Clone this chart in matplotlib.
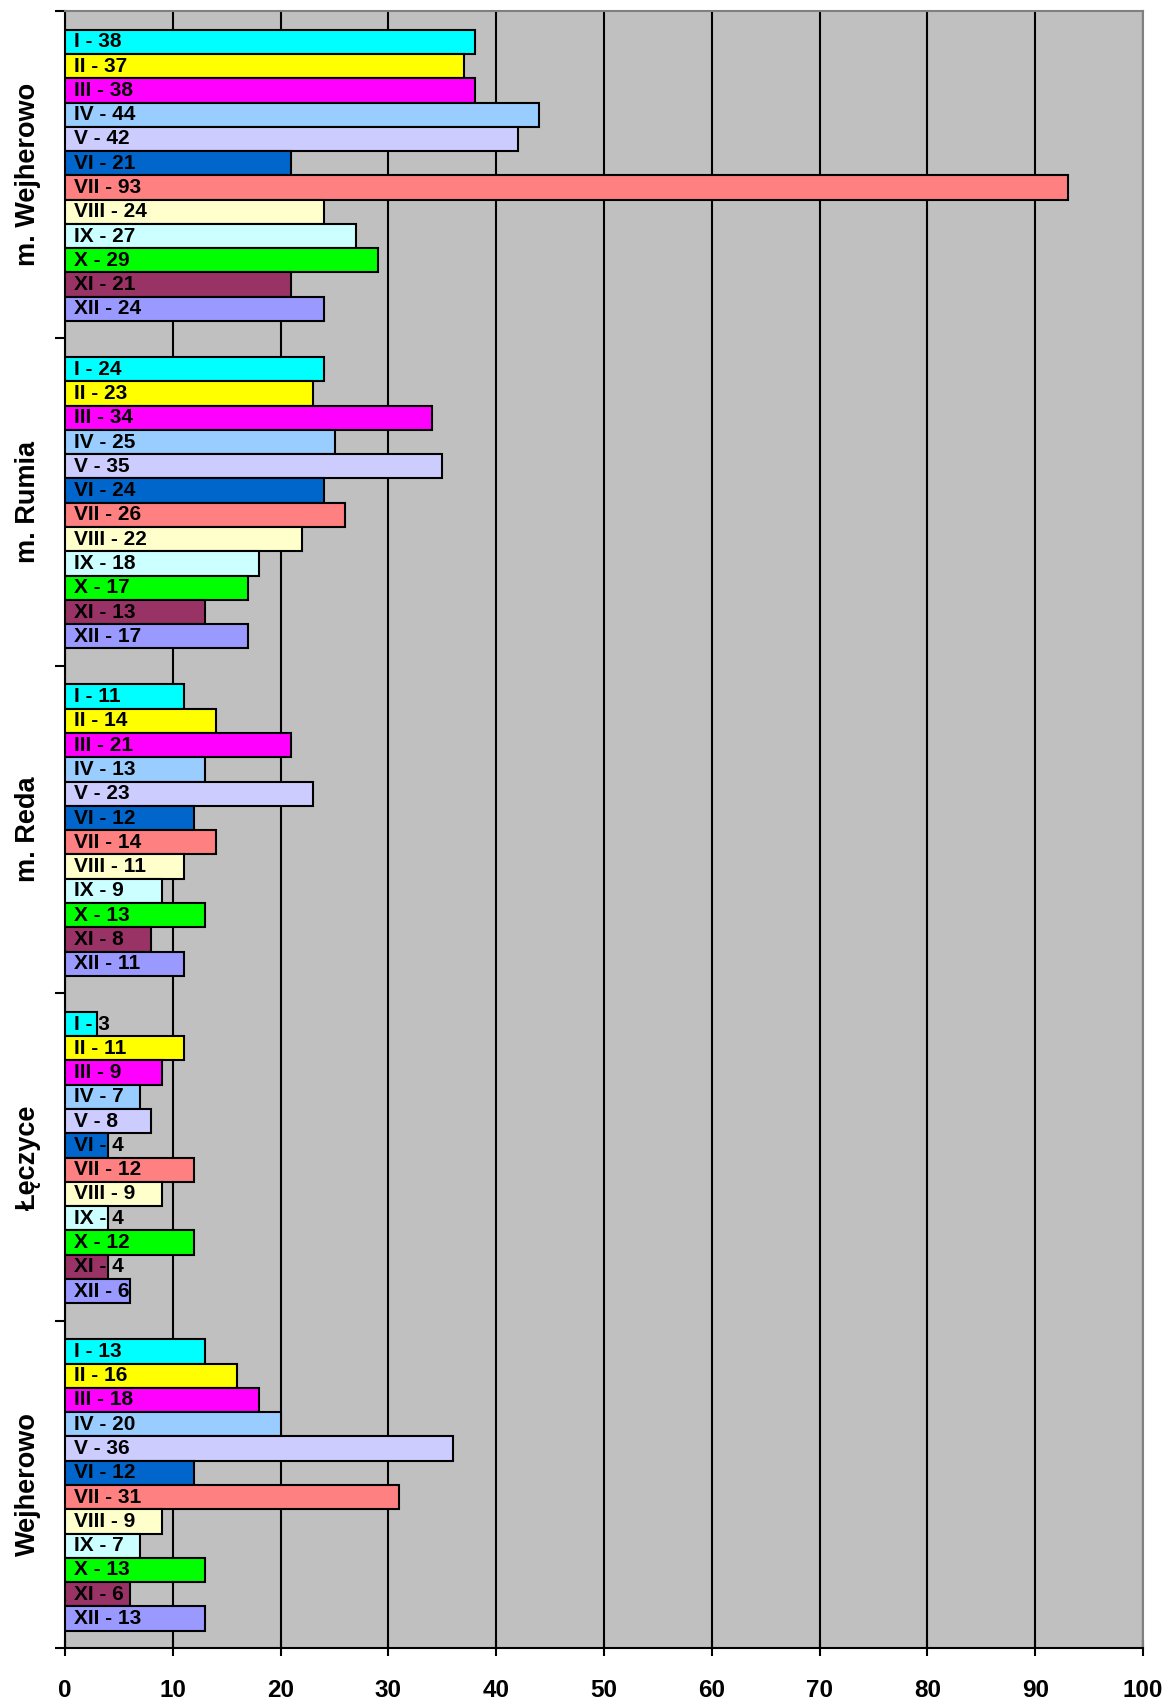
import matplotlib.pyplot as plt
import numpy as np

plt.rcParams['font.family'] = ['Liberation Sans', 'DejaVu Sans']

# categories from top to bottom
gminy = ['m. Wejherowo', 'm. Rumia', 'm. Reda', 'Łęczyce', 'Wejherowo']
miesiace = ['I', 'II', 'III', 'IV', 'V', 'VI', 'VII', 'VIII', 'IX', 'X', 'XI', 'XII']

m_wejherowo = [38, 37, 38, 44, 42, 21, 93, 24, 27, 29, 21, 24]
m_rumia = [24, 23, 34, 25, 35, 24, 26, 22, 18, 17, 13, 17]
m_reda = [11, 14, 21, 13, 23, 12, 14, 11, 9, 13, 8, 11]
leczyce = [3, 11, 9, 7, 8, 4, 12, 9, 4, 12, 4, 6]
wejherowo = [13, 16, 18, 20, 36, 12, 31, 9, 7, 13, 6, 13]

kolory = ['#00FFFF', '#FFFF00', '#FF00FF', '#99CCFF', '#CCCCFF', '#0066CC',
          '#FF8080', '#FFFFCC', '#CCFFFF', '#00FF00', '#993366', '#9999FF']

dane = [m_wejherowo, m_rumia, m_reda, leczyce, wejherowo]

fig = plt.figure(figsize=(11.7, 17.03), dpi=100)
ax = fig.add_axes([65/1170, 1 - 1648/1703, (1143 - 65)/1170, (1648 - 11)/1703])
ax.set_facecolor('#C0C0C0')

h = 0.89 / 12
for g, vals in enumerate(dane):
    for m, v in enumerate(vals):
        y = g - 0.443 + h * (m + 0.5)
        ax.barh(y, v, height=h, color=kolory[m], edgecolor='black', linewidth=1.5, zorder=3)
        ax.text(0.8, y, f'{miesiace[m]} - {v}', va='center', ha='left',
                fontsize=15, fontweight='bold', zorder=4)

ax.set_xlim(0, 100)
ax.set_ylim(4.5, -0.5)
ax.set_xticks(np.arange(0, 101, 10))
ax.tick_params(axis='x', direction='inout', length=12, width=1.5, labelsize=17.5, pad=16)
for t in ax.get_xticklabels():
    t.set_fontweight('bold')
ax.xaxis.grid(True, color='black', linewidth=1.5, zorder=1)

ax.set_yticks(np.arange(len(gminy)))
ax.set_yticklabels(gminy, rotation=90, va='center', fontsize=19.5, fontweight='bold')
ax.tick_params(axis='y', length=0, pad=17)
ax.set_yticks(np.arange(-0.5, 4.6, 1), minor=True)
ax.tick_params(axis='y', which='minor', direction='out', length=7, width=1.5)

for s in ['left', 'bottom']:
    ax.spines[s].set_linewidth(1.5)
    ax.spines[s].set_color('black')
for s in ['top', 'right']:
    ax.spines[s].set_linewidth(1.5)
    ax.spines[s].set_color('#808080')

fig.savefig('out.png', dpi=100)
